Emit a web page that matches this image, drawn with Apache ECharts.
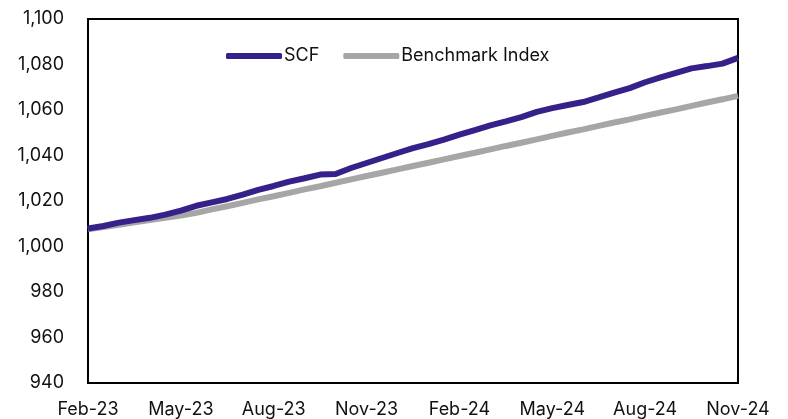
<!DOCTYPE html>
<html>
<head>
<meta charset="utf-8">
<script src="https://cdn.jsdelivr.net/npm/echarts@6/dist/echarts.min.js"></script>
<style>
html,body{margin:0;padding:0;background:#fff;}
#linechart{width:788px;height:419px;}
</style>
</head>
<body>
<div id="linechart"></div>
<script>
// months since Feb-23, in half-month steps
var months = [0,0.5,1,1.5,2,2.5,3,3.5,4,4.5,5,5.5,6,6.5,7,7.5,8,8.5,9,9.5,10,10.5,
              11,11.5,12,12.5,13,13.5,14,14.5,15,15.5,16,16.5,17,17.5,18,18.5,19,19.5,20,20.5,21];
var tickLabels = ['Feb-23','May-23','Aug-23','Nov-23','Feb-24','May-24','Aug-24','Nov-24'];

var scfdata = [1007.9,1009.0,1010.5,1011.6,1012.6,1014.0,1015.8,1017.9,1019.4,1020.9,1022.8,1024.9,
               1026.6,1028.5,1030.0,1031.6,1031.9,1034.5,1036.7,1038.9,1041.1,1043.2,1045.0,1047.0,
               1049.2,1051.2,1053.2,1055.0,1056.9,1059.2,1060.8,1062.2,1063.5,1065.5,1067.6,1069.6,
               1072.2,1074.3,1076.3,1078.3,1079.3,1080.4,1082.9];
var benchdata = [1007.6,1008.6,1009.6,1010.6,1011.6,1012.6,1013.6,1014.8,1016.3,1017.7,1019.2,1020.7,
                 1022.1,1023.6,1025.1,1026.5,1028.0,1029.5,1031.0,1032.4,1033.9,1035.4,1036.8,1038.3,
                 1039.8,1041.2,1042.7,1044.2,1045.6,1047.1,1048.6,1050.1,1051.5,1053.0,1054.5,1055.9,
                 1057.4,1058.9,1060.3,1061.8,1063.3,1064.7,1066.2];

function pairs(vals){
    var out=[];
    for(var i=0;i<months.length;i++) out.push([months[i],vals[i]]);
    return out;
}

var myChartline = echarts.init(document.getElementById('linechart'));
var option = {
    backgroundColor:'#fff',
    animation:false,
    textStyle:{fontFamily:'Inter'},
    grid:{
        left:88, right:50, top:19, bottom:35,
        show:true, borderColor:'#000', borderWidth:2
    },
    legend:{
        left:226, top:47, padding:0,
        itemWidth:56, itemHeight:6, itemGap:24,
        icon:'roundRect',
        data:['SCF','Benchmark Index'],
        textStyle:{color:'#111', fontSize:18, fontFamily:'Inter', padding:[0,0,0,-3]}
    },
    xAxis:{
        type:'value',
        min:0, max:21, interval:3,
        axisLine:{show:false},
        axisTick:{show:false},
        splitLine:{show:false},
        axisLabel:{
            margin:18, color:'#111', fontSize:18,
            formatter:function(v){ return tickLabels[Math.round(v/3)]; }
        }
    },
    yAxis:{
        type:'value',
        min:940, max:1100, interval:20,
        axisLine:{show:false},
        axisTick:{show:false},
        splitLine:{show:false},
        axisLabel:{
            margin:24, color:'#111', fontSize:18,
            formatter:function(v){ return v.toLocaleString('en-US'); }
        }
    },
    series:[
        {
            name:'Benchmark Index',
            type:'line',
            showSymbol:false,
            lineStyle:{width:6, color:'#a6a6a6'},
            itemStyle:{color:'#a6a6a6'},
            data:pairs(benchdata)
        },
        {
            name:'SCF',
            type:'line',
            showSymbol:false,
            lineStyle:{width:6, color:'#36208a'},
            itemStyle:{color:'#36208a'},
            data:pairs(scfdata)
        }
    ]
};
myChartline.setOption(option);
</script>
</body>
</html>
